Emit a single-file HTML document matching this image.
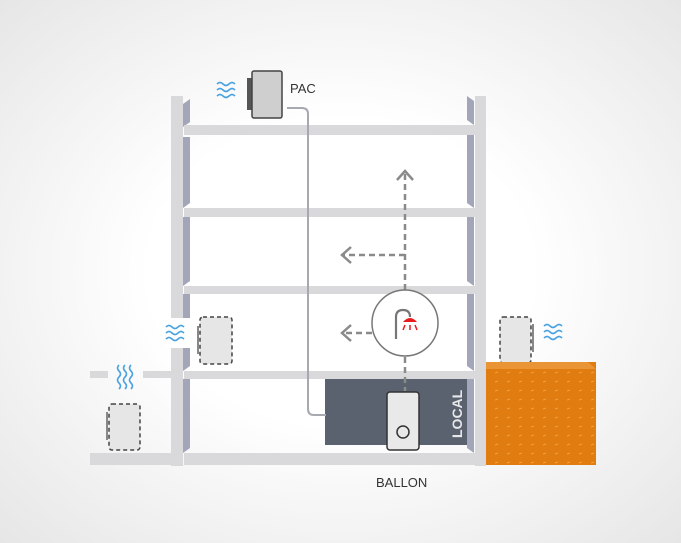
<!DOCTYPE html>
<html><head><style>
html,body{margin:0;padding:0}
body{width:681px;height:543px;overflow:hidden;background:radial-gradient(ellipse at 50% 50%,#ffffff 40%,#e6e6e6 100%)}
svg{display:block}
text{font-family:"Liberation Sans",sans-serif}
</style></head><body>
<svg width="681" height="543" viewBox="0 0 681 543">
<defs>
<pattern id="dots" width="12" height="9" patternUnits="userSpaceOnUse">
<line x1="3" y1="4" x2="6" y2="3" stroke="#f0a040" stroke-width="1"/>
</pattern>
</defs>
<!-- columns -->
<rect x="171" y="96" width="12" height="370" fill="#d9d9db"/>
<rect x="475" y="96" width="11" height="370" fill="#d9d9db"/>
<g fill="#a3a6b8">
<polygon points="183,104 190,99 190,122 183,127"/>
<polygon points="183,137 190,137 190,203 183,208"/>
<polygon points="183,217 190,217 190,281 183,286"/>
<polygon points="183,294 190,294 190,366 183,371"/>
<polygon points="183,379 190,379 190,448 183,453"/>
<polygon points="467,96 474,101 474,125 467,120"/>
<polygon points="467,135 474,135 474,208 467,203"/>
<polygon points="467,217 474,217 474,286 467,281"/>
<polygon points="467,294 474,294 474,371 467,366"/>
<polygon points="467,379 474,379 474,453 467,448"/>
</g>
<!-- wall opening left -->
<rect x="165" y="318" width="26" height="30" fill="#fff"/>
<!-- floors -->
<rect x="184" y="125" width="291" height="10" fill="#d9d9db"/>
<rect x="184" y="208" width="291" height="9" fill="#d9d9db"/>
<rect x="184" y="286" width="291" height="8" fill="#d9d9db"/>
<rect x="184" y="371" width="291" height="8" fill="#d9d9db"/>
<rect x="184" y="453" width="302" height="12" fill="#d9d9db"/>
<rect x="90" y="453" width="92" height="12" fill="#d9d9db"/>
<rect x="90" y="371" width="18" height="7" fill="#d9d9db"/>
<rect x="143" y="371" width="30" height="7" fill="#d9d9db"/>
<!-- LOCAL -->
<rect x="325" y="379" width="142" height="66" fill="#59626e"/>
<text x="0" y="0" transform="translate(462,438) rotate(-90)" fill="#e8e8ea" font-size="14" font-weight="bold">LOCAL</text>
<!-- pipe -->
<path d="M287 108 H302 Q308 108 308 114 V409 Q308 415 314 415 H326" fill="none" stroke="#a7a9b0" stroke-width="2"/>
<!-- PAC -->
<rect x="247" y="78" width="5" height="32" fill="#555"/>
<rect x="252" y="71" width="30" height="47" rx="2" fill="#cfcfcf" stroke="#444" stroke-width="1.5"/>
<text x="290" y="93" font-size="13" fill="#333">PAC</text>
<g fill="none" stroke="#4aa3e0" stroke-width="1.6">
<path d="M217 84 q3-3 6 0 t6 0 t6 0"/><path d="M217 90 q3-3 6 0 t6 0 t6 0"/><path d="M217 96 q3-3 6 0 t6 0 t6 0"/>
<path d="M166 327 q3-3 6 0 t6 0 t6 0"/><path d="M166 333 q3-3 6 0 t6 0 t6 0"/><path d="M166 339 q3-3 6 0 t6 0 t6 0"/>
<path d="M544 326 q3-3 6 0 t6 0 t6 0"/><path d="M544 332 q3-3 6 0 t6 0 t6 0"/><path d="M544 338 q3-3 6 0 t6 0 t6 0"/>
<path d="M119 365 q-3 3 0 6 t0 6 t0 6 t0 6"/><path d="M125 365 q-3 3 0 6 t0 6 t0 6 t0 6"/><path d="M131 365 q-3 3 0 6 t0 6 t0 6 t0 6"/>
</g>
<!-- dashed units -->
<g fill="#e6e6e6" stroke="#444" stroke-width="1.5" stroke-dasharray="4,3">
<rect x="200" y="317" width="32" height="47" rx="3"/>
<rect x="109" y="404" width="31" height="46" rx="3"/>
<rect x="500" y="317" width="31" height="46" rx="3"/>
</g>
<rect x="197" y="326" width="2" height="28" fill="#888"/>
<rect x="106" y="412" width="2" height="28" fill="#888"/>
<rect x="532" y="324" width="2" height="28" fill="#888"/>
<!-- orange block -->
<rect x="486" y="362" width="110" height="103" fill="#e07c10"/>
<polygon points="486,362 588,362 596,369 486,369" fill="#ea9535"/>
<rect x="486" y="370" width="110" height="95" fill="url(#dots)"/>
<!-- dashed arrows -->
<g fill="none" stroke="#8a8a8a" stroke-width="2.5">
<path d="M405 290 V172" stroke-dasharray="6,4"/>
<path d="M397 180 L405 171 L413 180"/>
<path d="M405 255 H342" stroke-dasharray="6,4"/>
<path d="M351 247 L342 255 L351 263"/>
<path d="M372 333 H342" stroke-dasharray="6,4"/>
<path d="M351 325 L342 333 L351 341"/>
<path d="M405 357 V391" stroke-dasharray="6,4"/>
</g>
<!-- circle shower -->
<circle cx="405" cy="323" r="33" fill="#fff" stroke="#777" stroke-width="1.5"/>
<path d="M396 339 V317 Q396 310 403 310 Q410 310 410 317" fill="none" stroke="#777" stroke-width="2.2"/>
<path d="M403 322 Q410 314 417 322 Z" fill="#e81c1c"/>
<g stroke="#e81c1c" stroke-width="1.5"><line x1="405" y1="325" x2="403" y2="330"/><line x1="410" y1="325" x2="410" y2="330"/><line x1="415" y1="325" x2="417" y2="330"/></g>
<!-- ballon -->
<rect x="387" y="392" width="32" height="58" rx="3" fill="#e9e9e9" stroke="#333" stroke-width="1.5"/>
<circle cx="403" cy="432" r="6" fill="none" stroke="#333" stroke-width="1.5"/>
<text x="376" y="487" font-size="13" fill="#333">BALLON</text>
</svg>
</body></html>
